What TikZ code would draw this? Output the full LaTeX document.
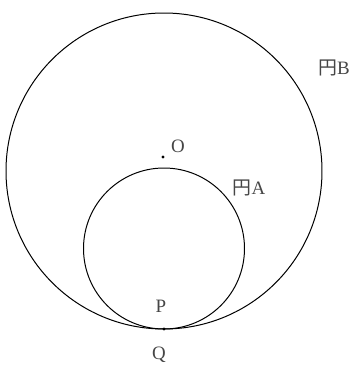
\documentclass[tikz,border=0pt]{standalone}
\usepackage{fontspec}
\setmainfont{Liberation Serif}
\newfontfamily\cjk{Noto Sans CJK JP}
\definecolor{t}{RGB}{70,70,70}

\begin{document}
\begin{tikzpicture}[x=1bp,y=-1bp,every node/.style={font=\fontsize{19}{19}\selectfont,text=t,inner sep=0pt}]
\useasboundingbox (0,0) rectangle (355,367);
\coordinate (cB) at (164,171);\coordinate (cA) at (164,248.5);
\draw[line width=1pt] (cB) circle[radius=158];\draw[line width=1pt] (cA) circle[radius=80.5];
\fill (163,157) circle[radius=1.6];\fill (164,329) circle[radius=1.6];
\node (O) at (178,146){O};\node (P) at (161,306){P};\node (Q) at (159,355){Q};
\node (A) at (249,188){{\cjk 円}A};\node (B) at (334,68){{\cjk 円}B};
\end{tikzpicture}
\end{document}
